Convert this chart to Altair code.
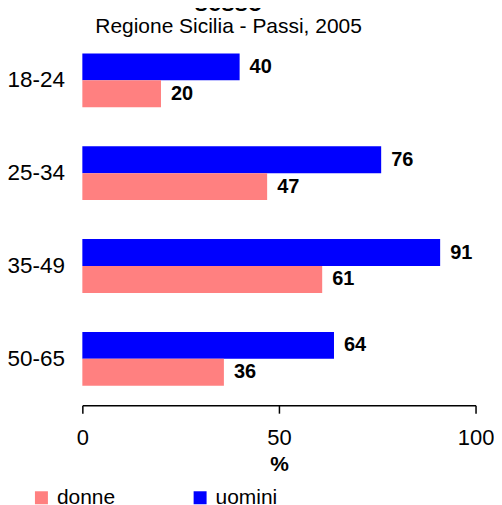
import altair as alt
import pandas as pd

ages = ["18-24", "25-34", "35-49", "50-65"]
uomini = [40, 76, 91, 64]
donne = [20, 47, 61, 36]
sexes = ["donne", "uomini"]
colors = ["#FF8080", "#0000FF"]
x_ticks = [0, 50, 100]

rows = []
for a, u, d in zip(ages, uomini, donne):
    rows.append({"eta": a, "sesso": "uomini", "val": u})
    rows.append({"eta": a, "sesso": "donne", "val": d})
df = pd.DataFrame(rows)

FONT = "Liberation Sans"

base = alt.Chart(df).encode(
    y=alt.Y("eta:N", sort=ages,
            scale=alt.Scale(paddingInner=0.42, paddingOuter=0.21),
            axis=alt.Axis(title=None, domain=False, ticks=False, labelFontSize=22.5,
                          labelPadding=18, labelColor="black", labelFont=FONT)),
    yOffset=alt.YOffset("sesso:N", sort=["uomini", "donne"],
                        scale=alt.Scale(paddingInner=0, paddingOuter=0)),
    x=alt.X("val:Q", scale=alt.Scale(domain=[0, 100], nice=False),
            axis=alt.Axis(title="%", values=x_ticks, grid=False, domainColor="black",
                          domainWidth=1.5, tickColor="black", tickWidth=1.5, tickSize=8,
                          labelFontSize=22, labelPadding=14, labelColor="black",
                          labelFont=FONT, labelFlush=False, titleFontSize=21,
                          titleFont=FONT, titleFontWeight="bold", titlePadding=5,
                          titleColor="black")),
)

bars = base.mark_bar().encode(
    color=alt.Color("sesso:N", scale=alt.Scale(domain=sexes, range=colors),
                    legend=alt.Legend(title=None, orient="none", legendX=-51.5, legendY=454,
                                      direction="horizontal", columns=2, columnPadding=74,
                                      symbolType="square", symbolSize=169,
                                      symbolStrokeWidth=0, labelFontSize=21,
                                      labelFont=FONT, labelColor="black", labelOffset=5,
                                      padding=0))
)

labels = base.mark_text(align="left", baseline="middle", dx=10, fontSize=20,
                        fontWeight="bold", font=FONT, color="black").encode(
    text=alt.Text("val:Q")
)

chart = alt.layer(bars, labels).properties(
    width=394, height=372,
    title=alt.TitleParams(text="sesso", subtitle="Regione Sicilia - Passi, 2005",
                          fontSize=24, fontWeight="bold", font=FONT, color="black",
                          subtitleFontSize=21, subtitleFont=FONT, subtitleColor="black",
                          subtitlePadding=0,
                          anchor="middle", frame="group", dx=-50.5, offset=-3),
    autosize=alt.AutoSizeParams(type="none"),
    padding={"left": 74.5, "top": 25.5, "right": 18.5, "bottom": 100},
).configure_view(stroke=None)

chart.save("out.html", embed_options={"renderer": "svg", "actions": False})
